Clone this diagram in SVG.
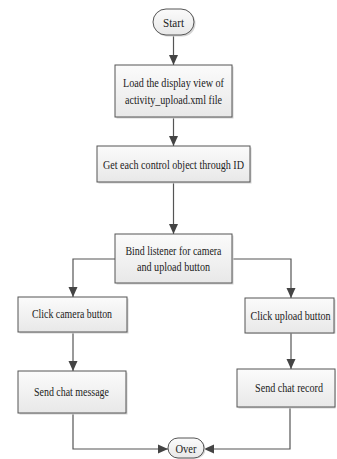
<svg xmlns="http://www.w3.org/2000/svg" width="337" height="459" viewBox="0 0 337 459">
<defs>
<linearGradient id="g" x1="0" y1="0" x2="0" y2="1">
<stop offset="0" stop-color="#fbfbfb"/>
<stop offset="1" stop-color="#e8e8e8"/>
</linearGradient>
<marker id="arr" viewBox="0 0 10 10" refX="10" refY="5" markerWidth="10" markerHeight="10" markerUnits="userSpaceOnUse" orient="auto">
<path d="M0,0.5 L10,5 L0,9.5 Z" fill="#444"/>
</marker>
</defs>
<style>
.box{fill:url(#g);stroke:#555;stroke-width:1}
.sh{fill:#d4d4d4;stroke:none}
.t{font-family:"Liberation Serif","Times New Roman",serif;font-size:13px;fill:#222;text-anchor:middle}
.c{fill:none;stroke:#555;stroke-width:1.2;marker-end:url(#arr)}
</style>
<rect width="337" height="459" fill="#fff"/>
<g id="connectors">
<path class="c" d="M173.5,35 V65"/>
<path class="c" d="M173.5,117 V146"/>
<path class="c" d="M173.5,182 V234"/>
<path class="c" d="M115,259 H73 V297"/>
<path class="c" d="M232,259 H291 V298"/>
<path class="c" d="M73,332 V371"/>
<path class="c" d="M291,333 V369"/>
<path class="c" d="M73,413 V449 H168"/>
<path class="c" d="M290,407 V449 H204"/>
</g>
<g id="start">
<rect class="sh" x="154.5" y="10.5" width="41" height="26" rx="13"/>
<rect class="box" x="153" y="9" width="41" height="26" rx="13"/>
<text class="t" x="173.5" y="26.5" textLength="21" lengthAdjust="spacingAndGlyphs">Start</text>
</g>
<g id="load">
<rect class="sh" x="116.5" y="66.5" width="117" height="52"/>
<rect class="box" x="115" y="65" width="117" height="52"/>
<text class="t" x="173.5" y="87" textLength="101" lengthAdjust="spacingAndGlyphs">Load the display view of</text>
<text class="t" x="173.5" y="103.5" textLength="97" lengthAdjust="spacingAndGlyphs">activity_upload.xml file</text>
</g>
<g id="getid">
<rect class="sh" x="98.5" y="147.5" width="153" height="36"/>
<rect class="box" x="97" y="146" width="153" height="36"/>
<text class="t" x="173.5" y="168.5" textLength="141" lengthAdjust="spacingAndGlyphs">Get each control object through ID</text>
</g>
<g id="bind">
<rect class="sh" x="116.5" y="235.5" width="117" height="49"/>
<rect class="box" x="115" y="234" width="117" height="49"/>
<text class="t" x="173.5" y="254.5" textLength="96" lengthAdjust="spacingAndGlyphs">Bind listener for camera</text>
<text class="t" x="173.5" y="270.5" textLength="73" lengthAdjust="spacingAndGlyphs">and upload button</text>
</g>
<g id="clickcamera">
<rect class="sh" x="19.5" y="298.5" width="109" height="35"/>
<rect class="box" x="18" y="297" width="109" height="35"/>
<text class="t" x="72" y="317.5" textLength="80" lengthAdjust="spacingAndGlyphs">Click camera button</text>
</g>
<g id="clickupload">
<rect class="sh" x="246.5" y="299.5" width="89" height="34"/>
<rect class="box" x="245" y="298" width="89" height="35"/>
<text class="t" transform="translate(290.5,319.5) scale(0.777,1)" x="0" y="0" textLength="103" lengthAdjust="spacingAndGlyphs">Click upload button</text>
</g>
<g id="sendmessage">
<rect class="sh" x="19.5" y="372.5" width="108" height="42"/>
<rect class="box" x="18" y="371" width="108" height="42"/>
<text class="t" x="71.5" y="395.5" textLength="75" lengthAdjust="spacingAndGlyphs">Send chat message</text>
</g>
<g id="sendrecord">
<rect class="sh" x="238.5" y="370.5" width="97" height="38"/>
<rect class="box" x="237" y="369" width="98" height="38"/>
<text class="t" transform="translate(289,391.5) scale(0.777,1)" x="0" y="0" textLength="87.5" lengthAdjust="spacingAndGlyphs">Send chat record</text>
</g>
<g id="over">
<rect class="sh" x="169.5" y="439.5" width="36" height="19" rx="9.5"/>
<rect class="box" x="168" y="438" width="36" height="20" rx="10"/>
<text class="t" x="186" y="452.5" textLength="21" lengthAdjust="spacingAndGlyphs">Over</text>
</g>
</svg>
